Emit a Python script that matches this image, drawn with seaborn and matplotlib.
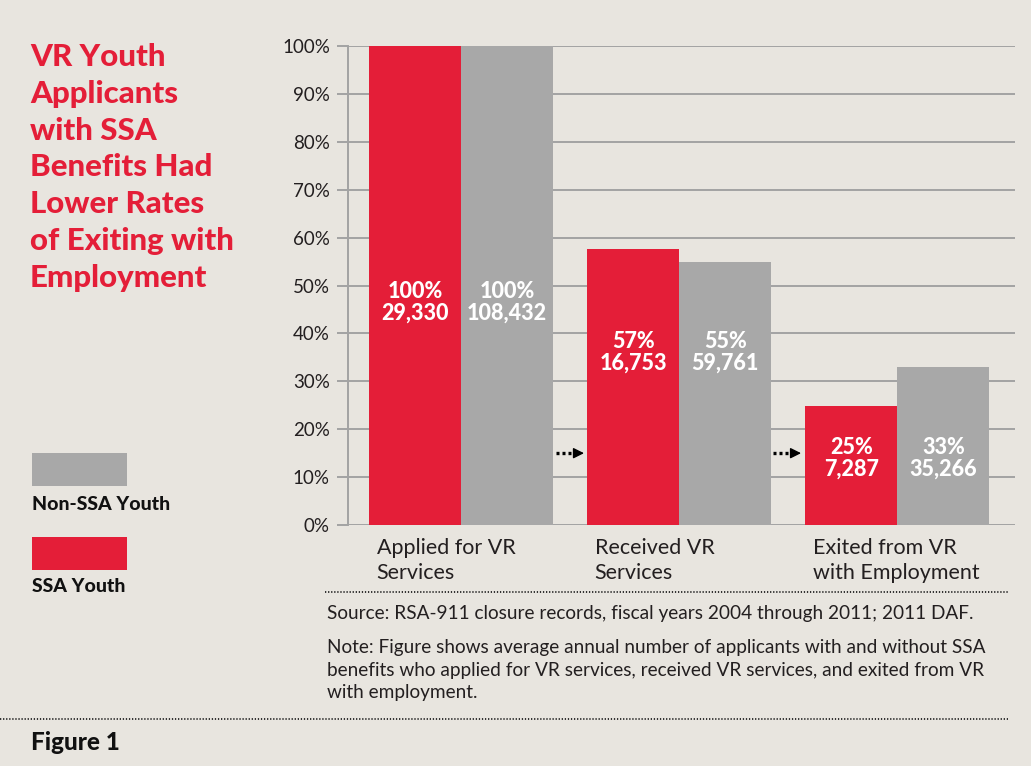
import matplotlib
matplotlib.use("Agg")
import matplotlib.pyplot as plt
import seaborn as sns
import pandas as pd
from matplotlib.patches import Rectangle
from matplotlib.lines import Line2D

# chart data
stages = ["Applied for VR\nServices", "Received VR\nServices", "Exited from VR\nwith Employment"]
groups = ["SSA Youth", "Non-SSA Youth"]
ssa_pct = [100, 57.6, 24.8]
non_ssa_pct = [100, 55.0, 33.0]
ssa_labels = ["100%\n29,330", "57%\n16,753", "25%\n7,287"]
non_ssa_labels = ["100%\n108,432", "55%\n59,761", "33%\n35,266"]
label_y = [46.5, 36.0, 14.0]
y_ticks = [0, 10, 20, 30, 40, 50, 60, 70, 80, 90, 100]

RED = "#E41E38"
GRAY = "#A8A8A8"
BG = "#E8E5DF"

df = pd.DataFrame({
    "stage": stages * 2,
    "group": [groups[0]] * 3 + [groups[1]] * 3,
    "value": ssa_pct + non_ssa_pct,
})

sns.set_theme(style="white")
plt.rcParams["font.family"] = ["Lato", "DejaVu Sans"]

fig = plt.figure(figsize=(10.31, 7.66), dpi=100, facecolor=BG)
ax = fig.add_axes([0.3375, 0.3146, 0.647, 0.6253])
ax.set_facecolor(BG)

ax.set_axisbelow(True)
for t in y_ticks:
    ax.axhline(t, color="#A3A3A3", lw=1.4, zorder=0)

sns.barplot(data=df, x="stage", y="value", hue="group", hue_order=groups,
            palette=[RED, GRAY], saturation=1, width=0.844, gap=0,
            edgecolor="none", linewidth=0, legend=False, ax=ax, zorder=2)

ax.set_xlim(-0.518, 2.54)
ax.set_ylim(0, 100)
ax.set_yticks(y_ticks)
ax.set_yticklabels([f"{t}%" for t in y_ticks], fontsize=13.5, color="#231F20")
ax.set_xticks([])
ax.set_xlabel("")
ax.set_ylabel("")
ax.tick_params(axis="y", length=8, width=1.4, color="#A3A3A3", left=True, pad=5)
for s in ["top", "right", "bottom"]:
    ax.spines[s].set_visible(False)
ax.spines["left"].set_color("#A3A3A3")
ax.spines["left"].set_linewidth(1.4)

# value labels inside bars
for cont, labs in zip(ax.containers, [ssa_labels, non_ssa_labels]):
    for i, (bar, lab) in enumerate(zip(cont, labs)):
        cx = bar.get_x() + bar.get_width() / 2
        ax.text(cx, label_y[i], lab, ha="center", va="center", color="white",
                fontsize=15.5, fontweight="black", linespacing=1.05, zorder=3)

# category labels, left aligned under red bar
for i, st in enumerate(stages):
    bar = ax.containers[0][i]
    ax.text(bar.get_x() + 0.035, -2.8, st, ha="left", va="top", fontsize=15.5,
            color="#231F20", linespacing=1.3)

# dotted arrows between stages: dotted shaft + solid head
for x0 in [0.436, 1.431]:
    ax.plot([x0, x0 + 0.095], [15, 15], color="black", lw=2.4,
            linestyle=(0, (0.9, 0.9)), solid_capstyle="butt", zorder=4)
    ax.annotate("", xy=(x0 + 0.128, 15), xytext=(x0 + 0.09, 15),
                arrowprops=dict(arrowstyle="-|>", color="black", lw=1.0,
                                mutation_scale=16, shrinkA=0, shrinkB=0), zorder=4)

# title
fig.text(0.029, 0.944, "VR Youth\nApplicants\nwith SSA\nBenefits Had\nLower Rates\nof Exiting with\nEmployment",
         ha="left", va="top", color=RED, fontsize=22.5, fontweight="black", linespacing=1.385)

# legend
W, H = 1031, 766
fig.patches.append(Rectangle((32 / W, 1 - 486 / H), 95 / W, 33 / H, transform=fig.transFigure,
                             facecolor=GRAY, edgecolor="none"))
fig.text(32 / W, 1 - 505 / H, "Non-SSA Youth", ha="left", va="center", fontsize=14,
         fontweight="black", color="#111111")
fig.patches.append(Rectangle((32 / W, 1 - 570 / H), 95 / W, 33 / H, transform=fig.transFigure,
                             facecolor=RED, edgecolor="none"))
fig.text(32 / W, 1 - 587 / H, "SSA Youth", ha="left", va="center", fontsize=14,
         fontweight="black", color="#111111")

# dotted separators
fig.lines.append(Line2D([325 / W, 1008 / W], [1 - 592 / H] * 2, transform=fig.transFigure,
                        color="#222222", lw=1.3, linestyle=(0, (0.7, 1.0))))
fig.lines.append(Line2D([0, 1008 / W], [1 - 719 / H] * 2, transform=fig.transFigure,
                        color="#222222", lw=1.3, linestyle=(0, (0.7, 1.0))))

# source and note
fig.text(327 / W, 1 - 613 / H, "Source: RSA-911 closure records, fiscal years 2004 through 2011; 2011 DAF.",
         ha="left", va="center", fontsize=13.7, color="#231F20")
fig.text(327 / W, 1 - 639 / H,
         "Note: Figure shows average annual number of applicants with and without SSA\n"
         "benefits who applied for VR services, received VR services, and exited from VR\n"
         "with employment.",
         ha="left", va="top", fontsize=13.7, color="#231F20", linespacing=1.4)

fig.text(31 / W, 1 - 742 / H, "Figure 1", ha="left", va="center", fontsize=17.5,
         fontweight="black", color="#111111")

fig.savefig("out.png", dpi=100, facecolor=BG)
